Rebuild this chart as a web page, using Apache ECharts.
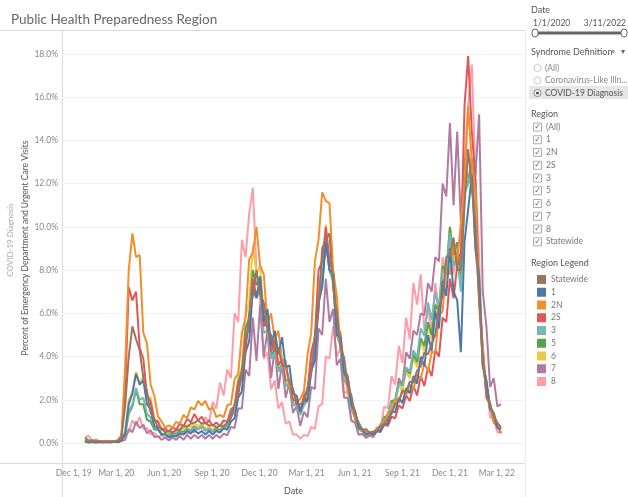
<!DOCTYPE html>
<html lang="en">
<head>
	<meta charset="UTF-8">
	<title>Public Health Preparedness Region</title>
	<script src="https://cdn.jsdelivr.net/npm/echarts@6/dist/echarts.min.js"></script>
	<style>
		html, body { margin: 0; padding: 0; background: #fff; }
		#main { width: 628px; height: 497px; }
	</style>
</head>
<body>
	<div id="main"></div>
	<script>
		// weekly readings (upper / lower edge of the daily band, alternating), 1 Jan 2020 .. 9 Mar 2022, in percent
		var weekCount = 115;
		var dates = [];
		for (var i = 0; i < weekCount; i++) dates.push(new Date(2020, 0, 1 + 7 * i).getTime());

		var statewide = [
			0.12, 0.08, 0.1, 0.08, 0.09, 0.06, 0.08, 0.06, 0.09, 0.1,
			0.3, 1.7, 4.0, 5.4, 4.8, 4.3, 3.0, 2.4, 1.4, 1.1,
			0.75, 0.7, 0.5, 0.58, 0.48, 0.6, 0.62, 0.8, 0.75, 0.9,
			0.95, 1.05, 0.9, 0.95, 0.8, 0.85, 0.72, 0.82, 0.78, 0.95,
			1.15, 1.8, 2.2, 3.35, 4.2, 6.0, 6.8, 8.0, 6.9, 6.5,
			5.2, 5.0, 4.3, 4.4, 3.6, 3.55, 2.85, 2.5, 1.8, 1.8,
			1.9, 2.6, 3.25, 5.0, 6.1, 9.0, 9.4, 9.7, 7.2, 6.0,
			4.5, 3.95, 2.7, 2.2, 1.3, 0.95, 0.6, 0.65, 0.47, 0.53,
			0.57, 0.8, 0.85, 1.15, 1.35, 1.8, 1.9, 2.4, 2.35, 2.85,
			2.8, 3.35, 3.55, 4.2, 4.1, 4.6, 5.0, 6.3, 6.8, 8.6,
			8.7, 9.5, 8.0, 8.0, 11.0, 13.6, 11.8, 10.1, 6.5, 3.9,
			2.3, 1.8, 1.25, 0.95, 0.72
		];
		var region1 = [
			0.06, 0.04, 0.05, 0.04, 0.05, 0.04, 0.05, 0.04, 0.06, 0.05,
			0.12, 0.45, 1.8, 2.3, 3.2, 2.7, 2.9, 1.8, 1.55, 0.8,
			0.68, 0.4, 0.4, 0.26, 0.34, 0.3, 0.45, 0.4, 0.56, 0.44,
			0.62, 0.44, 0.56, 0.4, 0.56, 0.4, 0.56, 0.48, 0.68, 0.62,
			1.0, 1.15, 2.1, 2.4, 4.2, 4.7, 7.1, 6.7, 7.7, 5.6,
			6.2, 4.5, 5.2, 4.1, 4.9, 3.5, 3.6, 2.3, 2.2, 1.45,
			2.0, 1.95, 3.35, 3.8, 6.5, 7.2, 9.3, 8.0, 7.8, 5.0,
			4.9, 3.2, 3.0, 1.75, 1.45, 0.7, 0.62, 0.4, 0.45, 0.4,
			0.56, 0.58, 0.9, 0.88, 1.45, 1.42, 2.1, 1.85, 2.55, 2.3,
			3.1, 2.75, 4.0, 3.55, 5.0, 4.25, 6.1, 5.3, 7.5, 6.8,
			9.0, 7.0, 6.6, 4.2, 9.3, 10.8, 12.4, 9.0, 7.7, 3.6,
			2.9, 1.6, 1.35, 0.7, 0.65
		];
		var region2N = [
			0.12, 0.07, 0.11, 0.08, 0.09, 0.09, 0.08, 0.1, 0.09, 0.13,
			0.35, 3.5, 8.0, 9.7, 8.6, 8.7, 5.1, 4.6, 2.7, 2.2,
			1.25, 1.0, 0.72, 0.82, 0.72, 0.98, 0.9, 1.3, 1.15, 1.65,
			1.55, 1.95, 1.75, 1.95, 1.55, 1.65, 1.2, 1.3, 1.2, 1.75,
			1.8, 2.95, 3.2, 5.1, 5.8, 8.5, 8.8, 10.0, 8.2, 7.8,
			5.5, 6.0, 4.8, 5.2, 3.85, 3.8, 2.65, 2.5, 1.85, 2.05,
			2.4, 4.1, 5.1, 8.4, 9.4, 11.6, 11.2, 11.1, 8.0, 6.8,
			4.4, 3.8, 2.35, 2.0, 1.1, 0.88, 0.55, 0.55, 0.42, 0.55,
			0.55, 0.88, 0.92, 1.42, 1.45, 2.05, 1.9, 2.5, 2.2, 2.7,
			2.5, 3.15, 2.95, 3.7, 3.3, 4.2, 4.2, 5.9, 6.1, 8.1,
			7.8, 9.4, 8.4, 10.2, 12.0, 15.6, 13.0, 11.5, 6.8, 4.5,
			2.4, 1.85, 1.0, 0.82, 0.5
		];
		var region2S = [
			0.09, 0.05, 0.09, 0.06, 0.07, 0.06, 0.07, 0.06, 0.09, 0.09,
			0.35, 2.3, 7.2, 6.6, 7.0, 4.4, 3.9, 2.2, 1.9, 1.05,
			1.0, 0.6, 0.68, 0.52, 0.74, 0.62, 0.9, 0.78, 1.12, 0.96,
			1.35, 1.05, 1.22, 0.88, 1.06, 0.8, 0.95, 0.78, 1.05, 0.98,
			1.55, 1.7, 2.8, 3.0, 5.0, 5.2, 7.6, 6.8, 7.4, 5.4,
			5.7, 4.2, 4.8, 3.6, 3.9, 2.9, 2.9, 2.0, 1.95, 1.45,
			2.2, 2.45, 4.2, 4.9, 8.0, 8.4, 10.0, 8.4, 8.0, 5.4,
			5.1, 3.4, 3.1, 1.9, 1.5, 0.8, 0.66, 0.44, 0.5, 0.4,
			0.56, 0.53, 0.84, 0.8, 1.22, 1.15, 1.75, 1.6, 2.2, 1.95,
			2.65, 2.2, 3.1, 2.65, 3.5, 3.1, 4.3, 4.0, 5.8, 5.6,
			7.6, 6.7, 8.2, 8.8, 15.6, 17.9, 14.4, 12.2, 6.8, 4.4,
			2.1, 1.8, 0.95, 0.8, 0.45
		];
		var region3 = [
			0.07, 0.04, 0.07, 0.04, 0.06, 0.05, 0.06, 0.04, 0.07, 0.06,
			0.17, 0.45, 1.45, 1.8, 2.55, 2.0, 2.1, 1.35, 1.2, 0.72,
			0.6, 0.4, 0.45, 0.31, 0.39, 0.36, 0.5, 0.45, 0.61, 0.54,
			0.72, 0.63, 0.77, 0.58, 0.66, 0.54, 0.6, 0.54, 0.72, 0.72,
			1.2, 1.45, 2.5, 3.0, 5.0, 5.5, 7.5, 6.7, 7.1, 5.1,
			5.2, 3.9, 4.2, 3.3, 3.6, 2.65, 2.7, 1.8, 1.75, 1.3,
			1.75, 1.95, 3.3, 4.0, 6.7, 7.6, 9.5, 8.0, 7.5, 5.0,
			4.6, 3.0, 2.6, 1.55, 1.2, 0.63, 0.55, 0.36, 0.44, 0.41,
			0.6, 0.68, 1.1, 1.18, 1.85, 1.9, 2.75, 2.65, 3.5, 3.3,
			4.3, 3.95, 5.3, 4.95, 6.5, 5.7, 7.0, 6.1, 8.0, 7.8,
			9.7, 8.2, 8.6, 7.0, 11.5, 12.0, 12.7, 9.0, 7.0, 3.5,
			2.7, 1.55, 1.3, 0.74, 0.65
		];
		var region5 = [
			0.25, 0.12, 0.13, 0.1, 0.1, 0.08, 0.11, 0.08, 0.1, 0.09,
			0.17, 0.36, 1.35, 1.7, 2.45, 1.8, 1.8, 1.08, 1.0, 0.63,
			0.62, 0.4, 0.45, 0.36, 0.45, 0.41, 0.56, 0.5, 0.66, 0.58,
			0.78, 0.63, 0.78, 0.58, 0.66, 0.54, 0.66, 0.59, 0.77, 0.77,
			1.3, 1.65, 2.85, 3.3, 5.3, 5.8, 8.0, 7.3, 7.7, 5.5,
			5.4, 4.0, 4.35, 3.4, 3.6, 2.65, 2.7, 1.8, 1.75, 1.35,
			1.95, 2.1, 3.35, 4.05, 6.5, 7.3, 9.4, 8.0, 7.5, 5.0,
			4.5, 2.95, 2.6, 1.55, 1.2, 0.64, 0.55, 0.41, 0.5, 0.45,
			0.66, 0.73, 1.2, 1.28, 1.95, 2.0, 2.8, 2.65, 3.45, 3.2,
			4.1, 3.75, 4.85, 4.5, 5.6, 5.0, 6.4, 6.1, 8.2, 7.9,
			10.0, 8.7, 9.3, 7.7, 11.7, 12.0, 13.2, 9.5, 7.5, 3.7,
			2.8, 1.65, 1.4, 0.82, 0.75
		];
		var region6 = [
			0.09, 0.05, 0.08, 0.05, 0.06, 0.05, 0.06, 0.05, 0.08, 0.07,
			0.17, 0.54, 2.0, 2.35, 3.3, 2.8, 3.05, 2.15, 2.1, 1.15,
			1.0, 0.58, 0.62, 0.45, 0.56, 0.5, 0.67, 0.63, 0.83, 0.72,
			0.94, 0.77, 0.88, 0.68, 0.77, 0.63, 0.72, 0.63, 0.83, 0.82,
			1.45, 1.7, 3.0, 3.5, 5.9, 6.5, 9.1, 7.8, 8.2, 5.8,
			5.9, 4.35, 4.8, 3.6, 3.85, 2.7, 2.85, 1.9, 1.85, 1.45,
			2.1, 2.25, 3.85, 4.5, 7.4, 7.9, 10.1, 8.3, 7.9, 5.1,
			4.8, 3.1, 2.75, 1.6, 1.3, 0.68, 0.6, 0.41, 0.5, 0.45,
			0.66, 0.72, 1.1, 1.18, 1.75, 1.8, 2.65, 2.45, 3.3, 3.0,
			3.95, 3.5, 4.7, 4.25, 5.5, 4.8, 6.4, 5.9, 8.3, 7.9,
			10.0, 8.3, 9.0, 7.2, 12.0, 12.2, 13.1, 9.3, 7.4, 3.6,
			2.75, 1.55, 1.3, 0.78, 0.7
		];
		var region7 = [
			0.06, 0.03, 0.06, 0.03, 0.06, 0.03, 0.06, 0.03, 0.06, 0.04,
			0.1, 0.15, 0.65, 0.5, 1.0, 0.7, 0.85, 0.45, 0.6, 0.28,
			0.32, 0.15, 0.26, 0.12, 0.26, 0.15, 0.32, 0.15, 0.38, 0.2,
			0.38, 0.22, 0.38, 0.2, 0.38, 0.2, 0.38, 0.24, 0.44, 0.36,
			0.75, 0.7, 1.6, 1.6, 3.4, 3.1, 5.8, 3.8, 6.4, 4.0,
			5.2, 3.0, 4.4, 2.5, 3.7, 2.1, 2.8, 1.4, 1.7, 0.8,
			1.45, 1.2, 2.6, 2.5, 5.3, 5.0, 7.6, 5.6, 6.2, 3.6,
			3.9, 2.1, 2.1, 1.05, 0.95, 0.4, 0.42, 0.24, 0.36, 0.28,
			0.55, 0.5, 1.05, 1.0, 1.9, 1.85, 3.0, 2.7, 4.2, 3.9,
			5.2, 5.0, 6.0, 5.9, 7.4, 7.0, 8.6, 8.4, 12.0, 11.4,
			14.8, 11.0, 14.4, 10.2, 13.2, 12.0, 13.0, 12.4, 15.2, 7.0,
			5.4, 2.6, 3.0, 1.7, 1.8
		];
		var region8 = [
			0.25, 0.35, 0.08, 0.18, 0.08, 0.1, 0.08, 0.1, 0.08, 0.12,
			0.12, 0.35, 0.5, 1.05, 0.8, 1.2, 0.65, 0.7, 0.4, 0.48,
			0.28, 0.36, 0.24, 0.36, 0.28, 0.42, 0.32, 0.54, 0.4, 0.6,
			0.48, 0.84, 0.64, 1.2, 0.95, 1.9, 1.6, 2.8, 2.2, 3.4,
			3.0, 6.0, 5.6, 9.4, 8.6, 10.6, 11.8, 8.0, 6.6, 3.9,
			4.2, 2.5, 2.9, 1.6, 1.9, 0.9, 1.0, 0.4, 0.4, 0.2,
			0.38, 0.32, 0.75, 0.65, 1.7, 1.8, 4.0, 3.9, 5.4, 4.0,
			4.4, 2.3, 2.4, 1.0, 1.0, 0.38, 0.44, 0.24, 0.36, 0.32,
			0.75, 0.7, 1.7, 1.6, 3.1, 2.7, 4.5, 3.7, 5.8, 4.8,
			7.4, 6.4, 7.8, 5.2, 6.2, 5.2, 7.4, 6.2, 8.6, 7.8,
			9.8, 7.8, 9.2, 7.4, 13.0, 15.6, 17.5, 12.2, 8.6, 3.8,
			2.8, 1.2, 1.1, 0.5, 0.5
		];

		var legendOrder = ['Statewide', '1', '2N', '2S', '3', '5', '6', '7', '8'];
		var yTicks = [0, 2, 4, 6, 8, 10, 12, 14, 16, 18];
		var xTicks = [
			new Date(2019, 11, 1), new Date(2020, 2, 1), new Date(2020, 5, 1), new Date(2020, 8, 1),
			new Date(2020, 11, 1), new Date(2021, 2, 1), new Date(2021, 5, 1), new Date(2021, 8, 1),
			new Date(2021, 11, 1), new Date(2022, 2, 1)
		];
		var months = ['Jan','Feb','Mar','Apr','May','Jun','Jul','Aug','Sep','Oct','Nov','Dec'];

		// drawn bottom to top
		var regions = [
			{ name: '8', color: '#ff9da7', values: region8 },
			{ name: '7', color: '#b07aa1', values: region7 },
			{ name: '6', color: '#edc948', values: region6 },
			{ name: '5', color: '#59a14f', values: region5 },
			{ name: '3', color: '#76b7b2', values: region3 },
			{ name: '2S', color: '#e15759', values: region2S },
			{ name: '2N', color: '#f28e2b', values: region2N },
			{ name: '1', color: '#4e79a7', values: region1 },
			{ name: 'Statewide', color: '#9c755f', values: statewide }
		];

		var font = 'Lato, "Noto Sans", sans-serif';
		var gray = '#d9d9d9';

		var series = regions.map(function (r) {
			return {
				name: r.name,
				type: 'line',
				color: r.color,
				showSymbol: false,
				lineStyle: { width: 2 },
				emphasis: { disabled: true },
				data: r.values.map(function (v, i) { return [dates[i], v]; })
			};
		});

		// side panel (filters)
		var side = [];
		function txt(x, y, s, size, color, align) {
			side.push({ type: 'text', x: x, y: y, style: { text: s, fontSize: size, fill: color, fontFamily: font, align: align || 'left', verticalAlign: 'middle' } });
		}
		txt(531, 10, 'Date', 9, '#555');
		txt(533, 23, '1/1/2020', 8.5, '#555');
		txt(626, 23, '3/11/2022', 8.5, '#555', 'right');
		side.push({ type: 'line', shape: { x1: 536, y1: 33, x2: 623, y2: 33 }, style: { stroke: '#666', lineWidth: 3 } });
		side.push({ type: 'rect', shape: { x: 532, y: 29, width: 6, height: 8, r: 3 }, style: { fill: '#fff', stroke: '#666', lineWidth: 1 } });
		side.push({ type: 'rect', shape: { x: 621, y: 29, width: 6, height: 8, r: 3 }, style: { fill: '#fff', stroke: '#666', lineWidth: 1 } });
		txt(531, 52, 'Syndrome Definition', 9, '#555');
		txt(611, 51, '\u2315', 8, '#666');
		txt(621, 51, '\u25be', 8, '#666');
		side.push({ type: 'rect', shape: { x: 529, y: 86, width: 99, height: 13 }, style: { fill: '#e6e6e6' } });
		var radios = ['(All)', 'Coronavirus-Like Illn...', 'COVID-19 Diagnosis'];
		radios.forEach(function (s, k) {
			var y = 68 + k * 12.5;
			side.push({ type: 'circle', shape: { cx: 537.5, cy: y, r: 3.5 }, style: { fill: '#fff', stroke: k === 2 ? '#666' : '#bbb', lineWidth: 0.8 } });
			if (k === 2) side.push({ type: 'circle', shape: { cx: 537.5, cy: y, r: 1.6 }, style: { fill: '#555' } });
			txt(545, y, s, 8.5, k === 2 ? '#555' : '#888');
		});
		txt(531, 114, 'Region', 9, '#555');
		var checks = ['(All)', '1', '2N', '2S', '3', '5', '6', '7', '8', 'Statewide'];
		checks.forEach(function (s, k) {
			var y = 127 + k * 12.75;
			side.push({ type: 'rect', shape: { x: 533.5, y: y - 4, width: 8, height: 8 }, style: { fill: '#fff', stroke: '#999', lineWidth: 0.8 } });
			side.push({ type: 'text', x: 537.5, y: y, style: { text: '\u2713', fontSize: 8, fill: '#555', fontFamily: '"DejaVu Sans"', align: 'center', verticalAlign: 'middle' } });
			txt(546, y, s, 8.5, '#777');
		});
		txt(531, 263, 'Region Legend', 9, '#555');

		// vertical axis title, two lines
		var axisTitle = [
			{ type: 'text', x: 10, y: 240, rotation: Math.PI / 2, style: { text: 'COVID-19 Diagnosis', fontSize: 8, fill: '#aaa', fontFamily: font, align: 'center', verticalAlign: 'middle' } },
			{ type: 'text', x: 25, y: 248, rotation: Math.PI / 2, style: { text: 'Percent of Emergency Department and Urgent Care Visits', fontSize: 8.5, fill: '#555', fontFamily: font, align: 'center', verticalAlign: 'middle' } }
		];

		var frame = [
			{ type: 'line', shape: { x1: 0, y1: 30.5, x2: 525, y2: 30.5 }, style: { stroke: gray, lineWidth: 1 } },
			{ type: 'line', shape: { x1: 0, y1: 463.5, x2: 525, y2: 463.5 }, style: { stroke: gray, lineWidth: 1 } },
			{ type: 'line', shape: { x1: 62.5, y1: 30, x2: 62.5, y2: 497 }, style: { stroke: gray, lineWidth: 1 } },
			{ type: 'line', shape: { x1: 525.5, y1: 30, x2: 525.5, y2: 497 }, style: { stroke: '#ececec', lineWidth: 1 } }
		];

		var option = {
			animation: false,
			textStyle: { fontFamily: font },
			title: {
				text: 'Public Health Preparedness Region',
				left: 6, top: 8,
				textStyle: { fontSize: 13.5, fontWeight: 'normal', color: '#666', fontFamily: font }
			},
			legend: {
				data: legendOrder,
				orient: 'vertical',
				left: 532, top: 270,
				icon: 'rect',
				itemWidth: 9, itemHeight: 9, itemGap: 3.75,
				textStyle: { fontSize: 8.5, color: '#777', fontFamily: font }
			},
			grid: { left: 62, right: 103, top: 30, bottom: 34, outerBoundsMode: 'none' },
			xAxis: {
				type: 'value',
				min: new Date(2019, 10, 18).getTime(),
				max: new Date(2022, 3, 24).getTime(),
				name: 'Date',
				nameLocation: 'middle',
				nameGap: 24,
				nameTextStyle: { fontSize: 9, color: '#555', fontFamily: font },
				axisLine: { show: false },
				axisTick: { show: false, customValues: xTicks.map(function (d) { return d.getTime(); }) },
				splitLine: { show: false },
				axisLabel: {
					customValues: xTicks.map(function (d) { return d.getTime(); }),
					showMinLabel: true, showMaxLabel: true, hideOverlap: false,
					fontSize: 8.5, color: '#888', margin: 6,
					formatter: function (v) {
						var d = new Date(v);
						var s = months[d.getMonth()] + ' ' + d.getDate() + ', ' + String(d.getFullYear()).slice(2);
						return d.getFullYear() === 2019 ? '{first|' + s + '}' : s;
					},
					rich: { first: { padding: [0, 0, 0, 10], fontSize: 8.5, color: '#888' } }
				}
			},
			yAxis: {
				type: 'value',
				min: -0.92, max: 19.1,
				axisLine: { show: false },
				axisTick: { show: false, customValues: yTicks },
				axisLabel: {
					customValues: yTicks,
					fontSize: 8.5, color: '#888', margin: 4,
					formatter: function (v) { return v.toFixed(1) + '%'; }
				},
				splitLine: { lineStyle: { color: '#f2f2f2', width: 1 } }
			},
			graphic: frame.concat(axisTitle, side),
			series: series
		};

		var myChart = echarts.init(document.getElementById('main'));
		myChart.setOption(option);
	</script>
</body>
</html>
